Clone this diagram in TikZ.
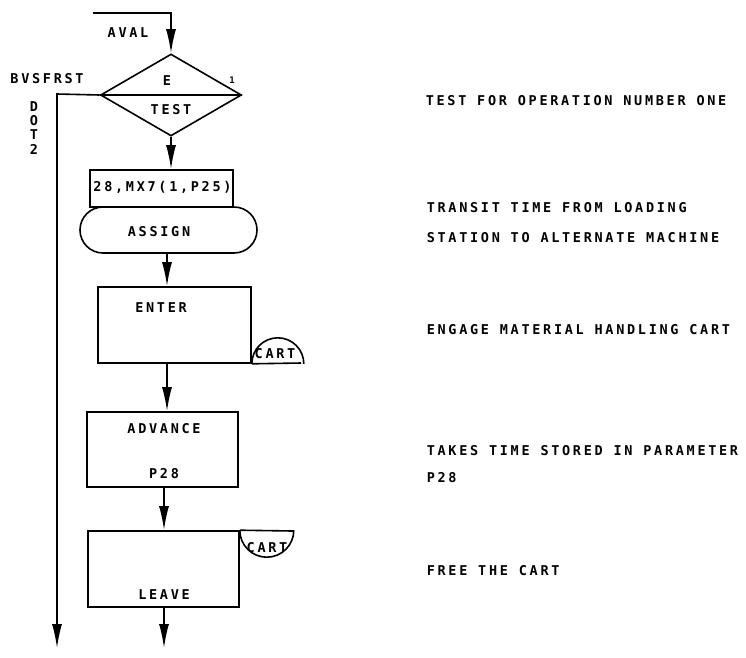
\documentclass[tikz,border=0pt]{standalone}
\usepackage{fontspec}
\newfontfamily\lblfont[LetterSpace=20]{DejaVu Sans Mono Bold}
\usetikzlibrary{shapes.geometric,arrows.meta}
\begin{document}
\begin{tikzpicture}[x=1pt,y=-1pt,line width=1.6pt,
  txt/.style={font=\lblfont\fontsize{13.5}{15}\selectfont,inner sep=0pt},
  note/.style={txt,anchor=west},
  flow/.style={-{Latex[length=24pt,width=10pt]}},
  box/.style={draw,rectangle,inner sep=0pt}]
\useasboundingbox (0,0) rectangle (746,657);

% decision
\node[draw,diamond,minimum width=141pt,minimum height=82pt,inner sep=0pt] (test) at (171,95) {};
\draw (test.west) -- (test.east);
\node[txt] (e) at (167,81) {E};
\node[txt,font=\lblfont\fontsize{9}{10}\selectfont] (one) at (232,80) {1};
\node[txt] (testt) at (171,110) {TEST};
\node[txt] (aval) at (128,33) {AVAL};
\node[txt] (bvs) at (47,79) {BVSFRST};
\node[txt] (d) at (34,107) {D};
\node[txt] (o) at (34,121) {O};
\node[txt] (t) at (34,135) {T};
\node[txt] (two) at (34,149) {2};

\coordinate (in) at (93,13);
\draw[flow] (in) -| (test.north);

% assign
\node[box,minimum width=143pt,minimum height=37pt] (prm) at (161.5,188.5) {};
\node[txt] (prmt) at (162.5,187) {28,MX7(1,P25)};
\node[draw,rounded corners=23pt,minimum width=177pt,minimum height=46pt,inner sep=0pt] (assign) at (168.5,230) {};
\node[txt] (assignt) at (159,232) {ASSIGN};
\draw[flow] (test.south) -- (test.south |- prm.north);

% enter
\node[box,minimum width=153pt,minimum height=76pt] (enter) at (174.5,325) {};
\node[txt] (entert) at (161,308) {ENTER};
\draw[flow] ([xshift=-1.5pt]assign.south) -- ([xshift=-1.5pt]assign.south |- enter.north);
\coordinate (c1) at (301,363);
\draw (enter.south east) -- (c1);
\draw (enter.south east) arc[start angle=180,end angle=0,radius=26pt];
\node[txt] (cart1) at (275,354) {CART};

% advance
\node[box,minimum width=151pt,minimum height=75pt] (adv) at (162.5,449.5) {};
\node[txt] (advt) at (164,429) {ADVANCE};
\node[txt] (p28) at (164,474) {P28};
\draw[flow] ([xshift=-7.5pt]enter.south) -- ([xshift=-7.5pt]enter.south |- adv.north);

% leave
\node[box,minimum width=151pt,minimum height=76pt] (leave) at (163.5,569) {};
\node[txt] (leavet) at (164,595) {LEAVE};
\draw[flow] ([xshift=1.5pt]adv.south) -- ([xshift=1.5pt]adv.south |- leave.north);
\coordinate (c2) at (293,531);
\draw (leave.north east) -- (c2);
\draw (leave.north east) arc[start angle=180,end angle=360,radius=27pt];
\node[txt] (cart2) at (267,548) {CART};
\coordinate (out2) at (164,648);
\draw[flow] ([xshift=0.5pt]leave.south) -- (out2);

% left branch
\coordinate (b1) at (57,94);
\coordinate (out1) at (56,648);
\draw[flow] (test.west) -- (b1) -- (b1 |- out1);

% comments
\node[note] (n1) at (425,101) {TEST FOR OPERATION NUMBER ONE};
\node[note] (n2) at (426,208) {TRANSIT TIME FROM LOADING};
\node[note] (n3) at (426,238) {STATION TO ALTERNATE MACHINE};
\node[note] (n4) at (426,330) {ENGAGE MATERIAL HANDLING CART};
\node[note] (n5) at (426,451) {TAKES TIME STORED IN PARAMETER};
\node[note] (n6) at (426,478) {P28};
\node[note] (n7) at (426,571) {FREE THE CART};
\end{tikzpicture}
\end{document}
